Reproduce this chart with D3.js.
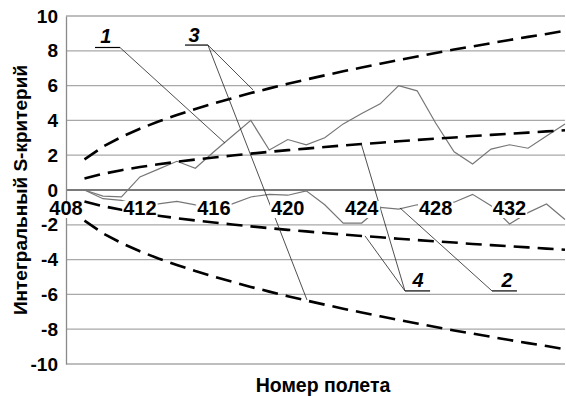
<!DOCTYPE html>
<html>
<head>
<meta charset="utf-8">
<script src="https://cdn.jsdelivr.net/npm/d3@7"></script>
<style>
  body { margin: 0; background: #fff; }
  text { font-family: "Liberation Sans", Arial, sans-serif; font-weight: bold; }
</style>
</head>
<body>
<div class="svgGraphique"></div>
<script>
// Номера полетов (категории)
const flights = [409, 410, 411, 412, 413, 414, 415, 416, 417, 418, 419, 420, 421, 422,
                 423, 424, 425, 426, 427, 428, 429, 430, 431, 432, 433, 434, 435];
const xTickLabels = [408, 412, 416, 420, 424, 428, 432];
const yTickValues = [-10, -8, -6, -4, -2, 0, 2, 4, 6, 8, 10];

// кривая 1 (верхняя сплошная)
const series1 = [0, -0.35, -0.4, 0.75, 1.2, 1.65, 1.25, 2.2, 3.1, 4.0, 2.3, 2.9, 2.6, 3.0,
                 3.8, 4.4, 4.95, 6.0, 5.7, 3.85, 2.2, 1.5, 2.35, 2.6, 2.4, 3.1, 3.8];
// кривая 2 (нижняя сплошная)
const series2 = [0, -0.5, -0.6, -0.9, -0.8, -0.65, -0.85, -0.9, -0.8, -0.4, -0.25, -0.3, -0.05, -0.85,
                 -1.9, -1.9, -1.0, -1.1, -0.85, -0.75, -0.7, -0.25, -0.9, -1.95, -1.3, -0.8, -1.7];
// границы 3 (внешние, пунктир)
const bound3Up = [1.76, 2.49, 3.05, 3.52, 3.94, 4.31, 4.66, 4.98, 5.28, 5.57, 5.84, 6.10, 6.35, 6.59,
                  6.82, 7.04, 7.26, 7.47, 7.67, 7.87, 8.07, 8.25, 8.44, 8.62, 8.80, 8.97, 9.15];
const bound3Down = [-1.76, -2.49, -3.05, -3.52, -3.94, -4.31, -4.66, -4.98, -5.28, -5.57, -5.84, -6.10, -6.35, -6.59,
                    -6.82, -7.04, -7.26, -7.47, -7.67, -7.87, -8.07, -8.25, -8.44, -8.62, -8.80, -8.97, -9.15];
// границы 4 (внутренние, пунктир)
const bound4Up = [0.66, 0.93, 1.14, 1.32, 1.48, 1.62, 1.75, 1.87, 1.98, 2.09, 2.19, 2.29, 2.38, 2.47,
                  2.56, 2.64, 2.72, 2.80, 2.88, 2.95, 3.02, 3.10, 3.17, 3.23, 3.30, 3.37, 3.43];
const bound4Down = [-0.66, -0.93, -1.14, -1.32, -1.48, -1.62, -1.75, -1.87, -1.98, -2.09, -2.19, -2.29, -2.38, -2.47,
                    -2.56, -2.64, -2.72, -2.80, -2.88, -2.95, -3.02, -3.10, -3.17, -3.23, -3.30, -3.37, -3.43];

// выноски: текст, полка, точки указания (в координатах графика)
const callouts = [
  { name: "1", text: [410.16, 8.45], shelf: [409.57, 410.92], shelfY: 8.19, from: 410.92, to: [[416.6, 2.7]] },
  { name: "3", text: [414.93, 8.5], shelf: [414.44, 415.68], shelfY: 8.33, from: 415.68, to: [[418.12, 5.75], [421.04, -6.32]] },
  { name: "4", text: [427.05, -5.57], shelf: [426.34, 427.7], shelfY: -5.8, from: 426.34, to: [[423.96, 2.7], [424.18, -2.64]] },
  { name: "2", text: [431.86, -5.57], shelf: [431.05, 432.4], shelfY: -5.8, from: 431.05, to: [[426.07, -1.03]] }
];

const width = 566, height = 396;

const svg = d3.select('.svgGraphique').append('svg')
    .attr('width', width)
    .attr('height', height)
    .attr('viewBox', `0 0 ${width} ${height}`);

const x = d3.scaleLinear().domain([408, 435]).range([66, 565]);
const y = d3.scaleLinear().domain([-10, 10]).range([364, 16]);

// сетка
svg.append('g')
    .selectAll('line')
    .data(yTickValues)
    .join('line')
    .attr('x1', x(408)).attr('x2', x(435))
    .attr('y1', d => y(d)).attr('y2', d => y(d))
    .attr('stroke', d => d === 0 ? '#7a7a7a' : '#a8a8a8')
    .attr('stroke-width', d => d === 0 ? 2 : 1.3);

// ось Y
const yAxis = d3.axisLeft(y).tickValues(yTickValues).tickSize(0).tickPadding(8)
    .tickFormat(d => String(d));
svg.append('g')
    .attr('transform', `translate(${x(408)},0)`)
    .call(yAxis)
    .call(g => g.select('.domain').attr('stroke', '#8a8a8a').attr('stroke-width', 1.3))
    .call(g => g.selectAll('text').attr('font-size', 19).attr('fill', '#000')
        .style('font-family', '"Liberation Sans", Arial, sans-serif').style('font-weight', 'bold'));

const line = d3.line().x((d, i) => x(flights[i])).y(d => y(d));

// сплошные кривые
[series1, series2].forEach(s => {
  svg.append('path')
      .datum(s)
      .attr('d', line)
      .attr('fill', 'none')
      .attr('stroke', '#767676')
      .attr('stroke-width', 1.2);
});

// пунктирные границы
[bound3Up, bound3Down, bound4Up, bound4Down].forEach(s => {
  svg.append('path')
      .datum(s)
      .attr('d', line)
      .attr('fill', 'none')
      .attr('stroke', '#000')
      .attr('stroke-width', 2.6)
      .attr('stroke-dasharray', '16,8');
});

// выноски
const callG = svg.append('g');
callouts.forEach(c => {
  callG.append('line')
      .attr('x1', x(c.shelf[0])).attr('x2', x(c.shelf[1]))
      .attr('y1', y(c.shelfY)).attr('y2', y(c.shelfY))
      .attr('stroke', '#000').attr('stroke-width', 1.2);
  c.to.forEach(p => {
    callG.append('line')
        .attr('x1', x(c.from)).attr('y1', y(c.shelfY))
        .attr('x2', x(p[0])).attr('y2', y(p[1]))
        .attr('stroke', '#222').attr('stroke-width', 0.8);
  });
  callG.append('text')
      .attr('x', x(c.text[0])).attr('y', y(c.text[1]))
      .attr('text-anchor', 'middle')
      .attr('font-size', 20)
      .attr('font-style', 'italic')
      .text(c.name);
});

// подписи оси X с белой подложкой
const xLab = svg.append('g');
xTickLabels.forEach(f => {
  const g = xLab.append('g');
  const t = g.append('text')
      .attr('x', x(f)).attr('y', y(0) + 25)
      .attr('text-anchor', 'middle')
      .attr('font-size', 20)
      .text(f);
  const b = t.node().getBBox();
  g.insert('rect', 'text')
      .attr('x', b.x - 1).attr('y', b.y + 4)
      .attr('width', b.width + 2).attr('height', b.height - 5)
      .attr('fill', '#fff');
});

// заголовки осей
svg.append('text')
    .attr('transform', `translate(27,${(y(10) + y(-10)) / 2}) rotate(-90)`)
    .attr('text-anchor', 'middle')
    .attr('font-size', 19)
    .text('Интегральный S-критерий');

svg.append('text')
    .attr('x', 323).attr('y', 392)
    .attr('text-anchor', 'middle')
    .attr('font-size', 19.5)
    .text('Номер полета');
</script>
</body>
</html>
